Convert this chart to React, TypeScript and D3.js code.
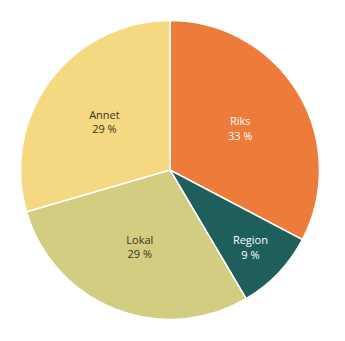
import React from "react";
import * as d3 from "d3";

const categories = ["Riks", "Region", "Lokal", "Annet"];
const values = [32.7, 8.8, 29.0, 29.5];
const labels = ["33 %", "9 %", "29 %", "29 %"];
const colors = ["#ED7B3A", "#1E5F5C", "#D3CD82", "#F5D982"];
const textColors = ["#ffffff", "#ffffff", "#3a3320", "#3a3320"];

export default function App() {
  const width = 345;
  const height = 341;
  const cx = 170;
  const cy = 170;
  const r = 149.5;
  const pie = d3.pie<number>().sort(null).value((d) => d)(values);
  const arc = d3.arc<d3.PieArcDatum<number>>().innerRadius(0).outerRadius(r);
  return (
    <svg
      width={width}
      height={height}
      style={{ position: "absolute", left: 0, top: 0 }}
      fontFamily="'Open Sans', 'DejaVu Sans', sans-serif"
    >
      <g transform={`translate(${cx},${cy})`}>
        {pie.map((p, i) => (
          <path key={i} d={arc(p) || ""} fill={colors[i]} stroke="#fff" strokeWidth={1.5} />
        ))}
        {pie.map((p, i) => {
          const span = p.endAngle - p.startAngle;
          const lr = span < 0.8 ? 111 : 82;
          const a = (p.startAngle + p.endAngle) / 2;
          const x = Math.sin(a) * lr;
          const y = -Math.cos(a) * lr;
          return (
            <text key={i} x={x} y={y} textAnchor="middle" fill={textColors[i]} fontSize={11}>
              <tspan x={x} dy="-0.2em">{categories[i]}</tspan>
              <tspan x={x} dy="1.3em">{labels[i]}</tspan>
            </text>
          );
        })}
      </g>
    </svg>
  );
}
